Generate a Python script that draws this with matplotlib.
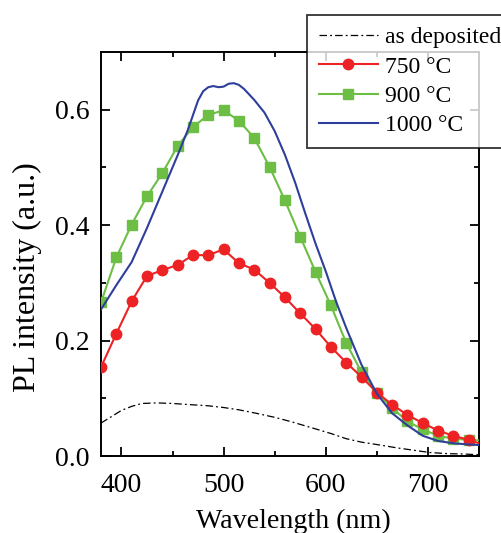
import matplotlib
matplotlib.use("Agg")
import matplotlib.pyplot as plt

plt.rcParams['font.family'] = ['Liberation Serif', 'DejaVu Serif']

# as deposited (dash-dot)
wl_dep = [380, 390, 400, 410, 420, 435, 450, 467, 485, 500, 515, 532, 550,
          565, 588, 605, 620, 635, 653, 670, 686, 702, 720, 735, 750]
pl_dep = [0.057, 0.068, 0.079, 0.086, 0.091, 0.092, 0.091, 0.089, 0.087,
          0.084, 0.080, 0.074, 0.067, 0.060, 0.048, 0.039, 0.030, 0.024,
          0.019, 0.014, 0.010, 0.006, 0.004, 0.0035, 0.002]

# annealed samples, sampled every 15 nm (+ end point at 750)
wl = [380, 395, 410, 425, 440, 455, 470, 485, 500, 515, 530, 545, 560,
      575, 590, 605, 620, 635, 650, 665, 680, 695, 710, 725, 740, 750]
pl_750 = [0.154, 0.212, 0.268, 0.312, 0.322, 0.331, 0.348, 0.348, 0.358,
          0.334, 0.323, 0.300, 0.275, 0.247, 0.220, 0.189, 0.162, 0.137,
          0.110, 0.089, 0.071, 0.057, 0.044, 0.035, 0.028, 0.022]
pl_900 = [0.266, 0.344, 0.401, 0.450, 0.490, 0.537, 0.570, 0.591, 0.599,
          0.581, 0.551, 0.501, 0.443, 0.380, 0.319, 0.261, 0.196, 0.145,
          0.110, 0.083, 0.060, 0.046, 0.035, 0.030, 0.028, 0.027]

# 1000 C, no markers
wl_1000 = [380, 395, 410, 425, 440, 455, 465, 475, 480, 485, 490, 495, 500,
           505, 510, 515, 520, 530, 540, 550, 560, 570, 580, 590, 600, 610,
           620, 635, 650, 665, 680, 695, 710, 725, 740, 750]
pl_1000 = [0.254, 0.296, 0.336, 0.395, 0.458, 0.521, 0.565, 0.616, 0.632,
           0.639, 0.641, 0.639, 0.640, 0.645, 0.646, 0.643, 0.636, 0.617,
           0.595, 0.563, 0.522, 0.474, 0.420, 0.368, 0.320, 0.268, 0.222,
           0.158, 0.108, 0.074, 0.053, 0.035, 0.026, 0.022, 0.020, 0.019]

red = '#ED2224'
green = '#6DBE45'
blue = '#2E3F9B'

fig = plt.figure(figsize=(5.01, 5.33), dpi=100)
ax = fig.add_axes([101 / 501, 77 / 533, 378 / 501, 404 / 533])

ax.plot(wl_dep, pl_dep, color='black', lw=0.9,
        linestyle=(0, (6, 2.5, 1.5, 2.5)), label='as deposited', zorder=2)
ax.plot(wl, pl_750, color=red, lw=1.5, marker='o', ms=7.5,
        markevery=slice(0, -1), label='750 °C', zorder=4)
ax.plot(wl, pl_900, color=green, lw=1.5, marker='s', ms=6.5,
        markevery=slice(0, -1), label='900 °C', zorder=3)
ax.plot(wl_1000, pl_1000, color=blue, lw=1.5, label='1000 °C', zorder=5)

ax.set_xlim(380, 750)
ax.set_ylim(0, 0.7)
ax.set_xticks([400, 500, 600, 700])
ax.set_xticks([450, 550, 650], minor=True)
ax.set_yticks([0.0, 0.2, 0.4, 0.6])
ax.set_yticks([0.1, 0.3, 0.5], minor=True)
ax.set_yticklabels(['0.0', '0.2', '0.4', '0.6'])

ax.tick_params(which='both', direction='in', top=True, right=True,
               width=1.3, labelsize=20)
ax.tick_params(which='major', length=6.5)
ax.tick_params(which='minor', length=3.6)
ax.tick_params(axis='x', which='major', pad=12.5)
ax.tick_params(axis='y', which='major', pad=8.5)
for s in ax.spines.values():
    s.set_linewidth(1.4)

ax.set_xlabel('Wavelength (nm)', fontsize=20.2)
ax.set_ylabel('PL intensity (a.u.)', fontsize=23)
ax.xaxis.set_label_coords(0.51, -0.13)
ax.yaxis.set_label_coords(-0.156, 0.443)

leg = ax.legend(loc='upper left', bbox_to_anchor=(307 / 501, 1 - 15 / 533),
                bbox_transform=fig.transFigure, fontsize=17, frameon=True,
                fancybox=False, borderaxespad=0, handlelength=2.5,
                labelspacing=0.33, borderpad=0.5, handletextpad=0.3)
leg.get_frame().set_edgecolor('black')
leg.get_frame().set_linewidth(1.3)
leg.set_zorder(10)

fig.savefig('out.png', dpi=100)
